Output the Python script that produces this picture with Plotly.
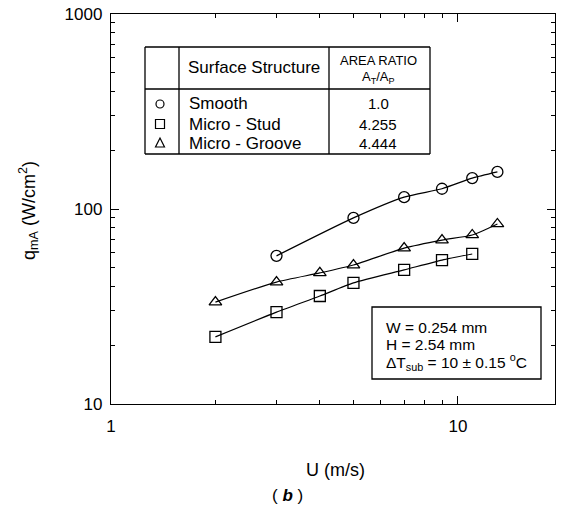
import plotly.graph_objects as go

# ---- data ----
u_smooth = [3, 5, 7, 9, 11, 13]
q_smooth = [57.5, 90, 115, 127, 144, 155]
u_stud = [2, 3, 4, 5, 7, 9, 11]
q_stud = [22.1, 29.6, 35.8, 41.8, 48.7, 54.7, 58.8]
u_groove = [2, 3, 4, 5, 7, 9, 11, 13]
q_groove = [33.3, 42.2, 47, 51.6, 63, 69.3, 73.6, 83.8]

names = ["Smooth", "Micro - Stud", "Micro - Groove"]
ratios = ["1.0", "4.255", "4.444"]
x_ticks = [1, 10]
y_ticks = [10, 100, 1000]
x_minor = [2, 3, 4, 5, 6, 7, 8, 9]
y_minor = [20, 30, 40, 50, 60, 70, 80, 90, 200, 300, 400, 500, 600, 700, 800, 900]

W, H = 561, 512
L, R, T, B = 111, 555, 14, 404
FONT = "Liberation Sans, Arial, sans-serif"

def px(x):
    return (x - L) / (R - L)

def py(y):
    return (B - y) / (B - T)

fig = go.Figure()
for u, q, sym in [(u_smooth, q_smooth, "circle-open"),
                  (u_groove, q_groove, "triangle-up-open"),
                  (u_stud, q_stud, "square-open")]:
    fig.add_trace(go.Scatter(
        x=u, y=q, mode="lines+markers",
        line=dict(color="black", width=1.2, shape="spline", smoothing=0.6),
        marker=dict(symbol=sym, size=11, color="black", line=dict(width=1.3, color="black")),
        showlegend=False))

shapes = []
BL = dict(color="black", width=1.3)
def line(x0, y0, x1, y1):
    shapes.append(dict(type="line", xref="paper", yref="paper",
                       x0=px(x0), y0=py(y0), x1=px(x1), y1=py(y1), line=BL))

# table
tl, tr, tt, tb = 145, 430, 47, 154
line(tl, tt, tr, tt); line(tl, tb, tr, tb)
line(tl, tt, tl, tb); line(tr, tt, tr, tb)
line(179, tt, 179, tb); line(329, tt, 329, tb)
line(tl, 89, tr, 89)
# text box
shapes.append(dict(type="rect", xref="paper", yref="paper",
                   x0=px(372), x1=px(541), y0=py(379), y1=py(307),
                   line=BL, fillcolor="white"))

rows_y = [104, 124, 143]
sx = 160
# table key symbols
shapes.append(dict(type="circle", xref="paper", yref="paper",
                   x0=px(sx - 4), x1=px(sx + 4), y0=py(rows_y[0] + 4), y1=py(rows_y[0] - 4),
                   line=dict(color="black", width=1.2)))
shapes.append(dict(type="rect", xref="paper", yref="paper",
                   x0=px(sx - 4.5), x1=px(sx + 4.5), y0=py(rows_y[1] + 4.5), y1=py(rows_y[1] - 4.5),
                   line=dict(color="black", width=1.2)))
ty = rows_y[2]
shapes.append(dict(type="path", xref="paper", yref="paper",
                   path=f"M {px(sx-4.5)} {py(ty+4)} L {px(sx+4.5)} {py(ty+4)} L {px(sx)} {py(ty-5)} Z",
                   line=dict(color="black", width=1.2)))

ann = []
def text(x, y, s, size=14, xanchor="center", **kw):
    ann.append(dict(xref="paper", yref="paper", x=px(x), y=py(y), text=s,
                    showarrow=False, xanchor=xanchor, yanchor="middle",
                    font=dict(family=FONT, size=size, color="black"), **kw))

text(254, 68, "Surface Structure", 17)
text(378, 60, "AREA RATIO", 13)
text(378, 78, "A<sub>T</sub>/A<sub>P</sub>", 13)
for n, r, y in zip(names, ratios, rows_y):
    text(187, y, n, 17, xanchor="left")
    text(378, y, r, 15)

text(384, 327, "W = 0.254 mm", 15.5, xanchor="left")
text(384, 344, "H = 2.54 mm", 15.5, xanchor="left")
text(384, 362, "ΔT<sub>sub</sub> = 10 ± 0.15 <sup>o</sup>C", 15.5, xanchor="left")

text(335, 470, "U (m/s)", 18)
text(287, 495, "( <b><i>b</i></b> )", 17)
text(28, 211, "q<sub>mA</sub> (W/cm<sup>2</sup>)", 18, textangle=-90)

def axis(tv, mv, standoff):
    return dict(type="log", showgrid=False, zeroline=False, showline=True,
                linecolor="black", linewidth=1.3, mirror="ticks",
                ticks="inside", ticklen=8, tickwidth=1.2, tickcolor="black",
                tickvals=tv, ticktext=[str(v) for v in tv], ticklabelstandoff=standoff,
                tickfont=dict(family=FONT, size=17, color="black"),
                minor=dict(ticks="inside", ticklen=4, tickwidth=1, tickcolor="black",
                           tickvals=mv, showgrid=False))

fig.update_layout(
    width=W, height=H,
    margin=dict(l=L, r=W - R, t=T, b=H - B),
    paper_bgcolor="white", plot_bgcolor="white",
    xaxis=dict(range=[0, 1.28], **axis(x_ticks, x_minor, 6)),
    yaxis=dict(range=[1, 3], **axis(y_ticks, y_minor, 4)),
    shapes=shapes, annotations=ann,
)
fig.write_html("out.html")
